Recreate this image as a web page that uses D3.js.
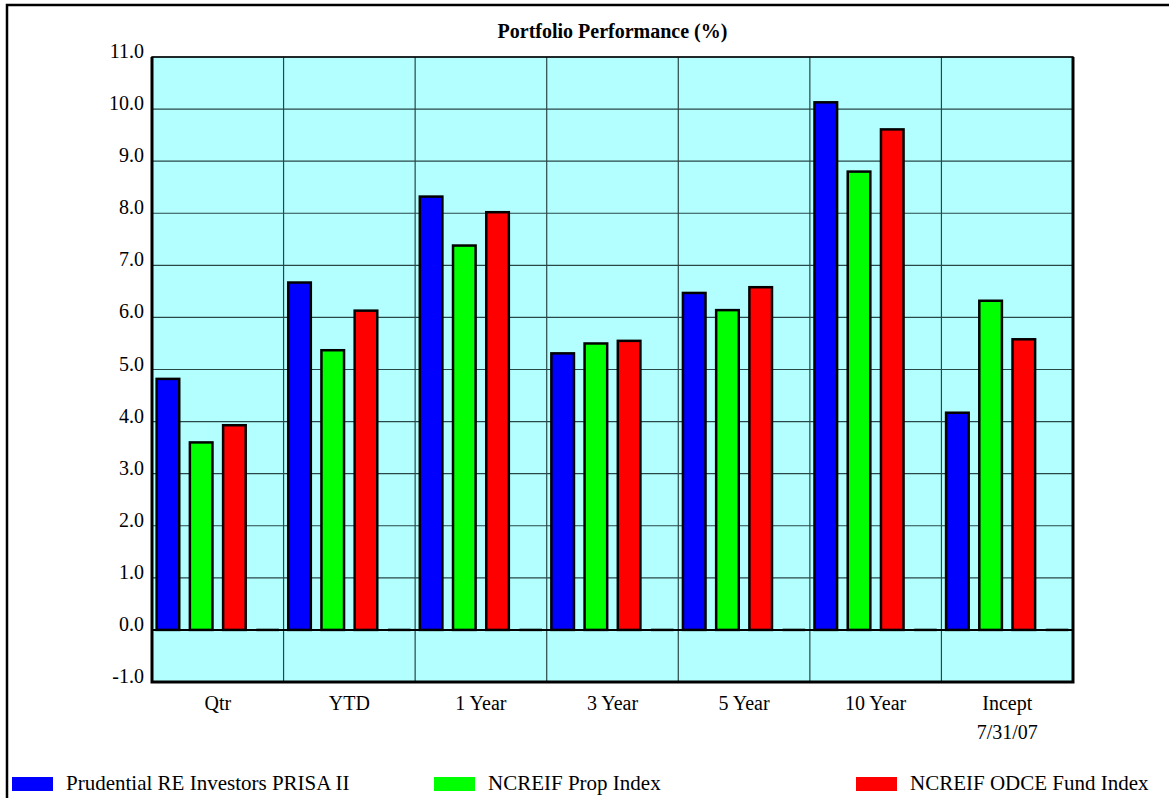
<!DOCTYPE html>
<html>
<head>
<meta charset="utf-8">
<script src="https://cdn.jsdelivr.net/npm/d3@7"></script>
<style>
  body { margin: 0; background: #fff; }
  svg text { font-family: "Liberation Serif", "Times New Roman", serif; fill: #000; }
</style>
</head>
<body>
<div id="chart"></div>
<script>
const width = 1169, height = 798;
const margin = {top: 57, left: 152, right: 96, bottom: 116};
const inWidth = width - margin.left - margin.right,
      inHeight = height - margin.top - margin.bottom;

const categories = ["Qtr", "YTD", "1 Year", "3 Year", "5 Year", "10 Year", "Incept\n7/31/07"];
const seriesNames = ["Prudential RE Investors PRISA II", "NCREIF Prop Index", "NCREIF ODCE Fund Index"];
const seriesColors = ["#0000FF", "#00FF00", "#FF0000"];
const prisa = [4.82, 6.67, 8.32, 5.31, 6.47, 10.13, 4.17];
const propIndex = [3.60, 5.37, 7.38, 5.50, 6.14, 8.80, 6.32];
const odce = [3.93, 6.13, 8.02, 5.55, 6.58, 9.61, 5.58];
const yTicks = [-1, 0, 1, 2, 3, 4, 5, 6, 7, 8, 9, 10, 11];

const svg = d3.select("#chart").append("svg")
  .attr("width", width).attr("height", height);

// outer frame
svg.append("path")
  .attr("d", `M7,${height} L7,5 L${width},5`)
  .attr("fill", "none").attr("stroke", "#000").attr("stroke-width", 2.5);

const g = svg.append("g").attr("transform", `translate(${margin.left},${margin.top})`);

const x0 = d3.scaleBand().domain(categories).range([0, inWidth]);
// four slots per group, the last one is empty
const x1 = d3.scaleBand().domain([0, 1, 2, 3]).range([0, x0.bandwidth()])
  .paddingInner(0.32).paddingOuter(0.14);
const y = d3.scaleLinear().domain([-1, 11]).range([inHeight, 0]);

g.append("rect").attr("width", inWidth).attr("height", inHeight).attr("fill", "#B3FFFF");

// grid
g.selectAll(".hgrid").data(yTicks).enter().append("line")
  .attr("x1", 0).attr("x2", inWidth)
  .attr("y1", d => y(d)).attr("y2", d => y(d))
  .attr("stroke", "#2a4747").attr("stroke-width", 1.2);
g.selectAll(".vgrid").data(categories.slice(1)).enter().append("line")
  .attr("x1", d => x0(d)).attr("x2", d => x0(d))
  .attr("y1", 0).attr("y2", inHeight)
  .attr("stroke", "#2a4747").attr("stroke-width", 1.2);

// bars
const rows = categories.map((c, i) => ({cat: c, vals: [prisa[i], propIndex[i], odce[i], 0]}));
const groups = g.selectAll(".grp").data(rows).enter().append("g")
  .attr("transform", d => `translate(${x0(d.cat)},0)`);

groups.selectAll("rect").data(d => d.vals.slice(0, 3)).enter().append("rect")
  .attr("x", (d, i) => x1(i))
  .attr("width", x1.bandwidth())
  .attr("y", d => y(d))
  .attr("height", d => y(0) - y(d))
  .attr("fill", (d, i) => seriesColors[i])
  .attr("stroke", "#000").attr("stroke-width", 2.5);

// empty fourth slot drawn as a flat bar on zero
groups.append("line")
  .attr("x1", x1(3)).attr("x2", x1(3) + x1.bandwidth())
  .attr("y1", y(0)).attr("y2", y(0))
  .attr("stroke", "#000").attr("stroke-width", 2.5);

// zero line
g.append("line").attr("x1", 0).attr("x2", inWidth)
  .attr("y1", y(0)).attr("y2", y(0))
  .attr("stroke", "#000").attr("stroke-width", 2);

// plot border
g.append("path")
  .attr("d", `M0,0 H${inWidth} V${inHeight} H0 Z`)
  .attr("fill", "none").attr("stroke", "#000").attr("stroke-width", 1.5);
g.append("path")
  .attr("d", `M0,0 V${inHeight} H${inWidth} V0`)
  .attr("fill", "none").attr("stroke", "#000").attr("stroke-width", 3);

// y labels
g.selectAll(".ylab").data(yTicks).enter().append("text")
  .attr("x", -8).attr("y", d => y(d) + 1)
  .attr("text-anchor", "end")
  .style("font-size", "20px")
  .text(d => d.toFixed(1));

// x labels
const xl = g.selectAll(".xlab").data(categories).enter().append("text")
  .attr("x", d => x0(d) + x0.bandwidth() / 2)
  .attr("y", inHeight + 28)
  .attr("text-anchor", "middle")
  .style("font-size", "20px");
xl.selectAll("tspan").data(d => d.split("\n")).enter().append("tspan")
  .attr("x", function () { return d3.select(this.parentNode).attr("x"); })
  .attr("dy", (d, i) => i === 0 ? 0 : 29)
  .text(d => d);

// title
svg.append("text")
  .attr("x", margin.left + inWidth / 2).attr("y", 38)
  .attr("text-anchor", "middle")
  .style("font-size", "20px").style("font-weight", "bold")
  .text("Portfolio Performance (%)");

// legend
const legendX = [12, 434, 856];
const legend = svg.selectAll(".legend").data(seriesNames).enter().append("g")
  .attr("transform", (d, i) => `translate(${legendX[i]},777)`);
legend.append("rect").attr("width", 41).attr("height", 14)
  .attr("fill", (d, i) => seriesColors[i]);
legend.append("text").attr("x", 54).attr("y", 13)
  .style("font-size", "21px").text(d => d);
</script>
</body>
</html>
